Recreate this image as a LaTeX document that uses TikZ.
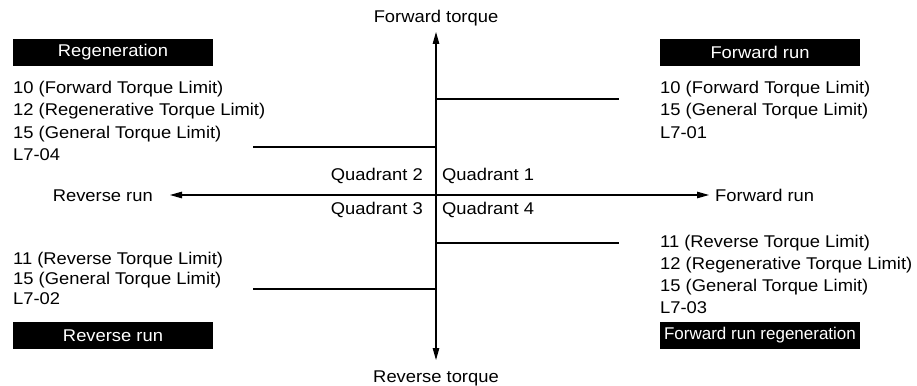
\documentclass[tikz,border=0pt]{standalone}
\usepackage{fontspec}
\setmainfont[FakeStretch=1.08]{Liberation Sans}
\newfontfamily\plainfont{Liberation Sans}
\usetikzlibrary{arrows.meta}
\begin{document}
\begin{tikzpicture}[x=1pt,y=-1pt,
  font=\fontsize{17}{20}\selectfont,
  txt/.style={inner sep=0pt,anchor=base west},
  txtr/.style={inner sep=0pt,anchor=base east},
  txtc/.style={inner sep=0pt,anchor=base},
  blackbox/.style={fill=black,text=white,minimum width=200pt,minimum height=27pt,inner sep=0pt},
  axis/.style={line width=1.1pt,-{Triangle[length=12pt,width=6.5pt]}},
  limit/.style={line width=1.1pt}]
\useasboundingbox (0,0) rectangle (917,385);
% axes
\coordinate (o) at (436,195);
\coordinate (top) at (436,32);
\coordinate (bot) at (436,360);
\coordinate (lft) at (170,195);
\coordinate (rgt) at (709,195);
\draw[axis] (o) -- (top);
\draw[axis] (o) -- (bot);
\draw[axis] (o) -- (lft);
\draw[axis] (o) -- (rgt);
\node[txtc] (ft) at (436,23) {Forward torque};
\node[txtc] (rt) at (436,382) {Reverse torque};
\node[txtr] (rr) at (153,201) {Reverse run};
\node[txt] (fr) at (715,201) {Forward run};
% quadrant labels
\node[txtr] (q2) at (423,180) {Quadrant 2};
\node[txt] (q1) at (442,180) {Quadrant 1};
\node[txtr] (q3) at (423,214) {Quadrant 3};
\node[txt] (q4) at (442,214) {Quadrant 4};
% limit lines
\coordinate (l1a) at (436,99);  \coordinate (l1b) at (619,99);
\coordinate (l2a) at (253,147); \coordinate (l2b) at (436,147);
\coordinate (l3a) at (253,289); \coordinate (l3b) at (436,289);
\coordinate (l4a) at (436,243); \coordinate (l4b) at (619,243);
\draw[limit] (l1a) -- (l1b);
\draw[limit] (l2a) -- (l2b);
\draw[limit] (l3a) -- (l3b);
\draw[limit] (l4a) -- (l4b);
% black boxes
\node[blackbox] (bregen) at (113,52.5) {Regeneration};
\node[blackbox] (bfwd) at (760,52.5) {Forward run};
\node[blackbox] (brev) at (113,335.5) {Reverse run};
\node[blackbox] (bfwdreg) at (760,335.5) {\plainfont Forward run regeneration};
% top-left text
\node[txt] (tl1) at (13,94) {10 (Forward Torque Limit)};
\node[txt] (tl2) at (13,116) {12 (Regenerative Torque Limit)};
\node[txt] (tl3) at (13,138) {15 (General Torque Limit)};
\node[txt] (tl4) at (13,160) {L7-04};
% top-right text
\node[txt] (tr1) at (660,94) {10 (Forward Torque Limit)};
\node[txt] (tr2) at (660,116) {15 (General Torque Limit)};
\node[txt] (tr3) at (660,138) {L7-01};
% bottom-left text
\node[txt] (bl1) at (13,264) {11 (Reverse Torque Limit)};
\node[txt] (bl2) at (13,284) {15 (General Torque Limit)};
\node[txt] (bl3) at (13,304) {L7-02};
% bottom-right text
\node[txt] (br1) at (660,247) {11 (Reverse Torque Limit)};
\node[txt] (br2) at (660,269) {12 (Regenerative Torque Limit)};
\node[txt] (br3) at (660,291) {15 (General Torque Limit)};
\node[txt] (br4) at (660,313) {L7-03};
\end{tikzpicture}
\end{document}
